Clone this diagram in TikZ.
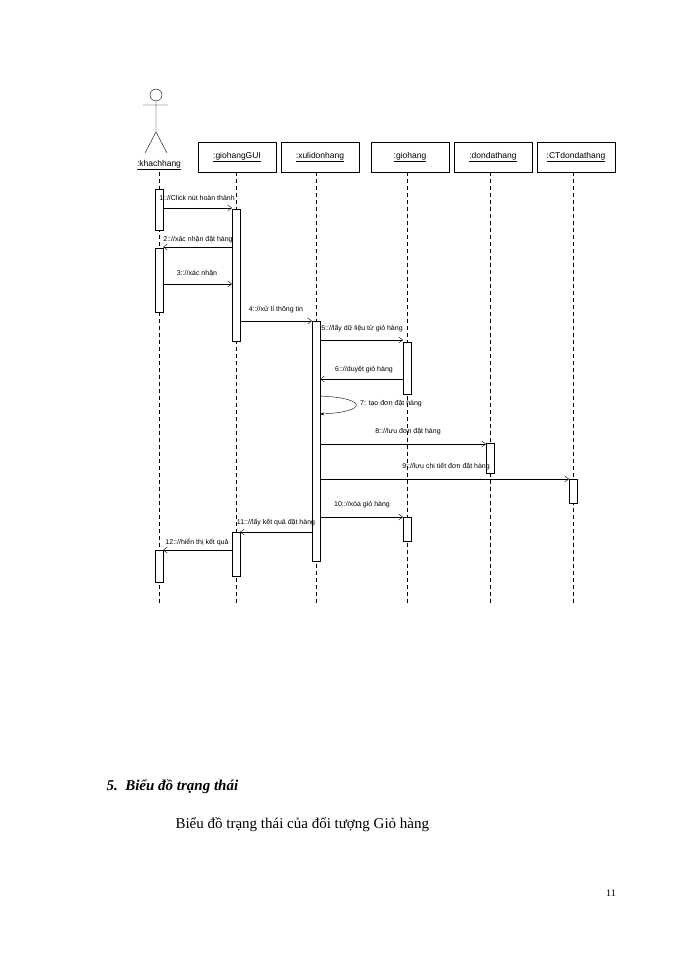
\documentclass[tikz,border=0pt]{standalone}
\usepackage{fontspec}
\setmainfont{Liberation Serif}
\newfontfamily\lsans{Liberation Sans}
\usetikzlibrary{arrows.meta}
\begin{document}
\begin{tikzpicture}[x=1pt,y=-1pt,
  obj/.style={draw,minimum width=78pt,minimum height=30pt,font=\lsans\fontsize{8.5}{9}\selectfont,inner sep=1pt},
  life/.style={dash pattern=on 4pt off 3pt},
  act/.style={draw,fill=white},
  msg/.style={-{Straight Barb[length=4pt,width=6pt]}},
  lbl/.style={font=\lsans\fontsize{7}{8}\selectfont,inner sep=1pt}]
\useasboundingbox (0,0) rectangle (700,960);
% actor
\draw (156,95) circle (6);
\draw (156,101) -- (156,132) (143,105) -- (168,105) (156,132) -- (145,153) (156,132) -- (167,153);
\node[lbl,font=\lsans\fontsize{8.5}{9}\selectfont] (a) at (159,165) {\underline{:khachhang}};
\node[obj] (b) at (237,157) {\underline{:giohangGUI}};
\node[obj] (c) at (320,157) {\underline{:xulidonhang}};
\node[obj] (d) at (410,157) {\underline{:giohang}};
\node[obj] (e) at (493,157) {\underline{:dondathang}};
\node[obj] (f) at (576,157) {\underline{:CTdondathang}};
\coordinate (ae) at (159,605);
\draw[life] (159,172) -- (ae);
\draw[life] (236,172) -- (236,605);
\draw[life] (316,172) -- (316,605);
\draw[life] (407,172) -- (407,605);
\draw[life] (490,172) -- (490,605);
\draw[life] (573,172) -- (573,605);
% activations
\draw[act] (155,189) rectangle (163,230);
\draw[act] (155,248) rectangle (163,312);
\draw[act] (155,550) rectangle (163,582);
\draw[act] (232,209) rectangle (240,341);
\draw[act] (232,532) rectangle (240,576);
\draw[act] (312,321) rectangle (320,561);
\draw[act] (403,342) rectangle (411,394);
\draw[act] (403,517) rectangle (411,541);
\draw[act] (486,443) rectangle (494,473);
\draw[act] (569,479) rectangle (577,503);
% messages
\draw[msg] (163,208) -- (232,208); \node[lbl] at (197,198) {1:://Click nút hoàn thành};
\draw[msg] (232,247) -- (163,247); \node[lbl] at (198,240) {2:://xác nhận đặt hàng};
\draw[msg] (163,284) -- (232,284); \node[lbl] at (197,273) {3:://xác nhận};
\draw[msg] (240,321) -- (312,321); \node[lbl] at (276,310) {4:://xử lí thông tin};
\draw[msg] (320,340) -- (403,340); \node[lbl] at (362,329) {5:://lấy dữ liệu từ giỏ hàng};
\draw[msg] (403,379) -- (320,379); \node[lbl] at (364,370) {6:://duyệt giỏ hàng};
\draw[-{Stealth[length=4pt]}] (320,396) .. controls (368,398) and (368,412) .. (320,414);
\node[lbl,anchor=west] at (359,404) {7: tạo đơn đặt hàng};
\draw[msg] (320,444) -- (486,444); \node[lbl] at (408,432) {8:://lưu đơn đặt hàng};
\draw[msg] (320,479) -- (569,479); \node[lbl] at (446,467) {9:://lưu chi tiết đơn đặt hàng};
\draw[msg] (320,517) -- (403,517); \node[lbl] at (362,505) {10:://xóa giỏ hàng};
\draw[msg] (312,532) -- (240,532); \node[lbl] at (276,523) {11:://lấy kết quả đặt hàng};
\draw[msg] (232,550) -- (163,550); \node[lbl] at (197,542) {12:://hiển thị kết quả};
% text
\node[anchor=west,font=\fontsize{15}{17}\selectfont\bfseries\itshape] (h) at (103,787) {5.\ \ Biểu đồ trạng thái};
\node[anchor=west,font=\fontsize{15}{17}\selectfont] (t) at (172,825) {Biểu đồ trạng thái của đối tượng Giỏ hàng};
\node[font=\fontsize{10}{12}\selectfont] (p) at (611,893) {11};
\end{tikzpicture}
\end{document}
